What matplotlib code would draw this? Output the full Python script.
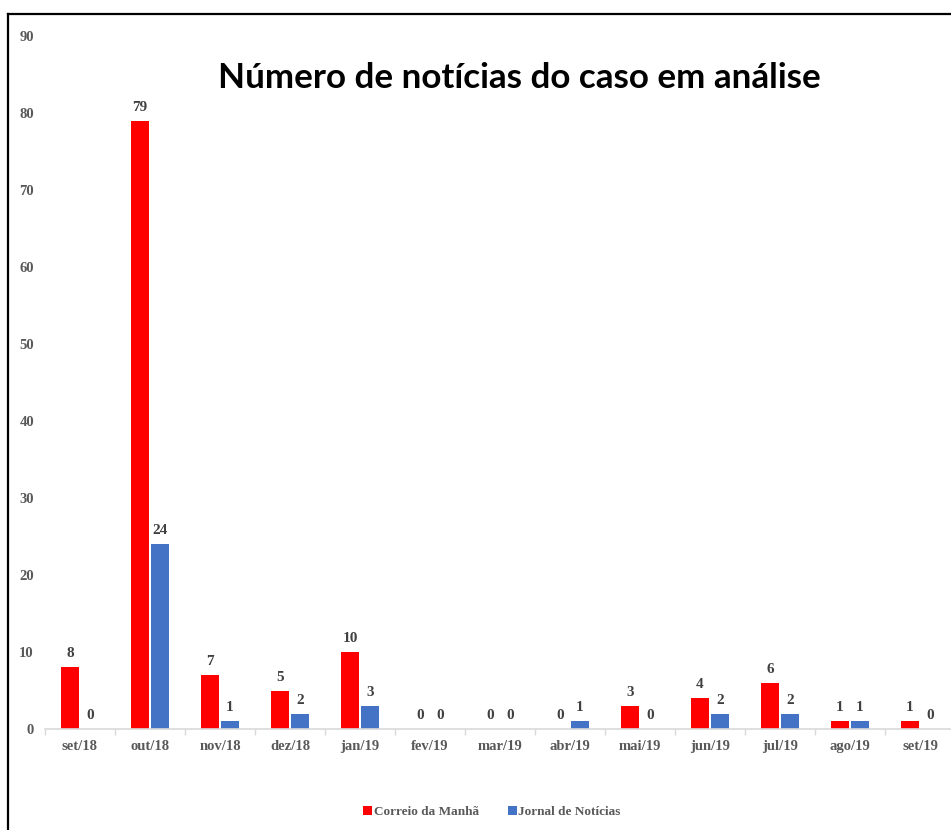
import matplotlib
matplotlib.use("Agg")
import matplotlib.pyplot as plt
import numpy as np
from matplotlib.lines import Line2D

months = ["set/18", "out/18", "nov/18", "dez/18", "jan/19", "fev/19", "mar/19",
          "abr/19", "mai/19", "jun/19", "jul/19", "ago/19", "set/19"]
correio = [8, 79, 7, 5, 10, 0, 0, 0, 3, 4, 6, 1, 1]
jornal = [0, 24, 1, 2, 3, 0, 0, 1, 0, 2, 2, 1, 0]
series_names = ["Correio da Manhã", "Jornal de Notícias"]
title = "Número de notícias do caso em análise"

W, H = 951, 830
fig = plt.figure(figsize=(W / 100, H / 100), dpi=100)

# axes placement in pixels
left_px, right_px, y0_px, y90_px = 45, 955, 729, 36
ax = fig.add_axes([left_px / W, (H - y0_px) / H, (right_px - left_px) / W, (y0_px - y90_px) / H])

x = np.arange(len(months))
bw = 0.26
off = 0.143
red = "#FF0000"
blue = "#4472C4"
b1 = ax.bar(x - off, correio, bw, color=red, label=series_names[0])
b2 = ax.bar(x + off, jornal, bw, color=blue, label=series_names[1])

serif = "Liberation Serif"
lab_color = "#404040"
for bars, vals in ((b1, correio), (b2, jornal)):
    for rect, v in zip(bars, vals):
        ax.annotate(str(v), (rect.get_x() + rect.get_width() / 2, v),
                    xytext=(0, 5), textcoords="offset points", ha="center", va="bottom",
                    fontfamily=serif, fontweight="bold", fontsize=11, color=lab_color)

ax.set_xlim(-0.5, len(months) - 0.5)
ax.set_ylim(0, 90)
ax.set_yticks(np.arange(0, 91, 10))
ax.set_xticks(x)
ax.set_xticklabels(months)
ax.set_xticks(np.arange(-0.5, len(months), 1), minor=True)
for s in ["top", "right", "left"]:
    ax.spines[s].set_visible(False)
ax.spines["bottom"].set_color("#d9d9d9")
ax.spines["bottom"].set_linewidth(1.2)
ax.tick_params(axis="x", which="major", length=0, pad=8)
ax.tick_params(axis="x", which="minor", length=4, color="#d9d9d9", width=1)
ax.tick_params(axis="y", length=0, pad=8)
for lbl in ax.get_xticklabels() + ax.get_yticklabels():
    lbl.set_fontfamily(serif)
    lbl.set_fontweight("bold")
    lbl.set_fontsize(10.5)
    lbl.set_color("#595959")
ax.set_facecolor("none")

fig.text(519 / W, 1 - 78 / H, title, ha="center", va="center",
         fontfamily="Lato", fontweight="bold", fontsize=25.2, color="black")

leg = fig.legend(handles=[b1, b2], loc="center", bbox_to_anchor=(492 / W, 1 - 812 / H),
                 ncol=2, frameon=False, handlelength=0.7, handleheight=0.7,
                 handletextpad=0.1, columnspacing=2.2,
                 prop={"family": serif, "weight": "bold", "size": 9.5})
for t in leg.get_texts():
    t.set_color("#595959")

# outer frame (left and top edges visible)
fig.add_artist(Line2D([8 / W, 8 / W], [0, 1 - 14 / H], color="black", lw=1.6,
                      transform=fig.transFigure))
fig.add_artist(Line2D([8 / W, 1], [1 - 14 / H, 1 - 14 / H], color="black", lw=1.6,
                      transform=fig.transFigure))

fig.savefig("out.png", dpi=100)
